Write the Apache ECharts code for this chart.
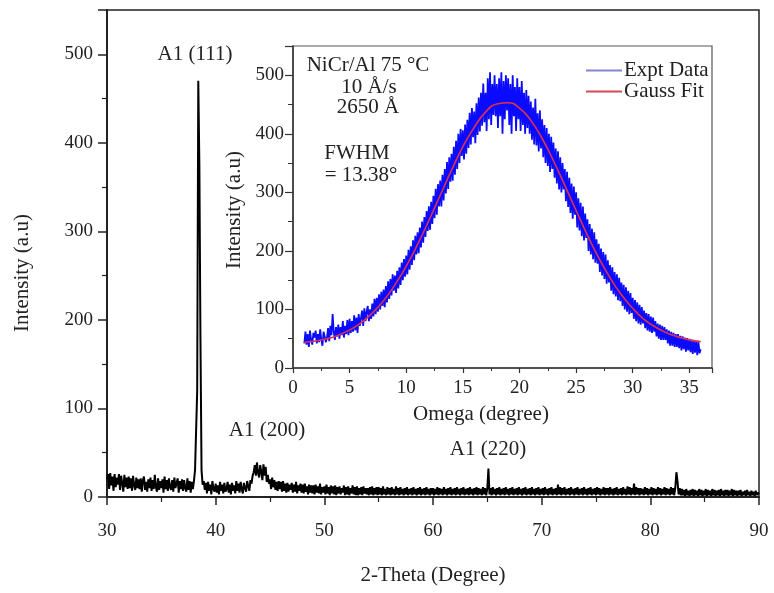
<!DOCTYPE html>
<html>
<head>
<meta charset="utf-8">
<script src="https://cdn.jsdelivr.net/npm/echarts@6/dist/echarts.min.js"></script>
<style>html,body{margin:0;padding:0;background:#fff}#c{width:774px;height:593px}</style>
</head>
<body>
<div id="c"></div>
<script>
// ---- Main XRD pattern: 2-Theta from 30 to 90, step 0.1 ----
const thetaStart = 30;
const thetaStep = 0.1;
const xrdIntensity = [
20,26,9,27,13,23,7,26,11,22,
14,26,8,24,16,6,25,11,22,9,
23,10,21,7,24,13,8,22,10,20,
9,21,6,19,23,8,17,6,20,10,
22,7,19,9,25,11,6,21,8,18,
10,20,5,23,9,19,7,21,11,8,
19,6,22,10,8,21,5,18,9,20,
7,19,10,6,21,8,18,5,17,9,
18,30,32,120,470,375,178,30,14,18,
8,16,4,17,7,14,3,18,9,6,
15,5,13,3,17,7,14,4,16,6,
9,17,5,14,3,16,7,13,4,18,
7,15,5,17,9,4,16,10,6,18,
12,7,19,15,24,28,36,24,39,27,
22,36,28,19,37,24,34,17,25,15,
20,9,22,11,19,8,17,7,18,9,
17,6,18,7,15,5,16,6,14,8,
16,5,14,6,17,4,13,7,15,5,
14,4,15,6,12,3,14,5,13,4,
13,3,14,5,12,4,15,3,11,5,
12,3,14,4,11,2,13,4,12,3,
13,2,11,4,12,3,10,5,13,2,
11,3,12,2,10,4,13,3,11,2,
12,2,10,3,11,2,12,4,10,3,
10,2,11,3,12,2,10,3,11,2,
11,3,10,2,12,3,9,2,11,3,
10,2,11,3,9,2,12,3,10,2,
11,3,9,2,10,3,11,2,9,3,
10,2,11,3,9,2,10,3,11,2,
9,3,10,2,11,3,9,2,10,3,
10,2,9,3,11,2,10,3,9,2,
11,3,9,2,10,3,11,2,9,3,
10,2,11,3,9,2,10,3,11,2,
9,3,10,2,11,3,9,2,10,3,
11,2,10,3,9,2,11,3,10,2,
10,32,3,10,2,11,3,9,2,10,
3,11,2,9,3,10,2,11,3,9,
2,10,3,11,2,9,3,10,2,11,
3,9,2,10,3,11,2,9,3,10,
2,11,3,9,2,10,3,11,2,9,
3,10,2,11,3,9,2,10,3,11,
2,9,3,10,2,14,3,11,2,10,
3,11,2,9,3,10,2,11,3,9,
2,10,3,11,2,9,3,10,2,11,
3,9,2,10,3,11,2,9,3,10,
2,11,3,10,2,9,3,11,2,10,
3,10,2,11,3,9,2,10,3,11,
2,9,3,10,2,11,3,9,2,12,
3,11,2,10,3,15,2,11,3,10,
2,10,3,9,2,11,3,10,2,9,
3,11,2,10,3,9,2,11,3,10,
2,9,3,11,2,10,3,9,2,11,
3,10,2,11,28,18,3,10,2,9,
2,8,1,9,2,7,1,8,2,9,
1,8,2,7,1,9,2,8,1,7,
2,9,1,8,2,7,1,9,2,8,
1,7,2,8,1,9,2,7,1,8,
2,8,1,7,2,9,1,8,2,7,
1,7,2,8,1,6,2,7,1,8,
2,6,1,7,2,6,1,7,2,5,
3
];

// ---- Inset: rocking curve, Omega from 1 to 36, step 0.1 ----
const omegaStart = 1;
const omegaStep = 0.1;
const exptIntensity = [
42,62,40,58,36,64,48,40,60,52,
64,42,58,44,66,48,38,62,54,44,
52,68,46,72,56,92,62,48,70,54,
74,50,70,56,80,52,72,58,82,56,
84,60,80,62,90,64,86,60,92,72,
74,98,72,102,80,96,106,80,100,84,
110,88,118,92,120,96,126,100,130,106,
134,104,140,112,148,118,152,124,160,132,
158,128,166,136,172,142,180,150,186,156,
192,160,202,168,208,176,218,184,226,194,
232,196,240,206,250,214,258,224,268,234,
276,236,284,246,294,256,306,262,314,276,
320,276,330,286,340,298,352,306,360,318,
366,320,378,330,388,340,400,350,408,362,
406,356,416,366,424,376,436,382,444,394,
438,384,452,398,462,404,470,414,486,420,
470,405,495,425,505,415,485,432,500,430,
485,410,495,430,505,400,490,425,500,440,
495,415,485,400,500,430,480,405,495,425,
480,405,490,415,470,400,475,410,465,400,
455,390,445,382,460,380,435,370,440,375,
425,360,415,350,410,345,400,335,395,340,
385,325,375,315,370,305,360,300,350,305,
340,285,335,275,325,265,315,255,310,262,
300,240,290,235,282,225,276,218,264,222,
254,200,246,194,238,186,232,180,220,178,
212,164,204,158,198,152,194,144,184,146,
176,132,172,126,164,122,160,116,154,114,
146,106,142,100,138,96,132,92,128,94,
120,84,116,80,112,76,108,74,104,76,
98,68,94,64,92,62,88,60,86,62,
80,54,76,50,74,48,72,48,70,48,
66,42,64,38,62,38,60,36,58,36,
58,34,55,30,54,32,52,28,51,30,
50,27,48,24,47,26,46,22,45,25,
32
];

// Gauss fit read at whole degrees
const fitOmega = [1,2,3,4,5,6,7,8,9,10,11,12,13,14,15,16,17,18,19,20,21,22,23,24,25,26,27,28,29,30,31,32,33,34,35,36];
const fitIntensity = [44,46,50,56,65,77,94,115,142,174,211,252,295,338,378,411,437,451,453,444,423,392,354,312,269,227,188,154,125,102,83,70,60,53,48,45];

const peakLabels = ['A1 (111)', 'A1 (200)', 'A1 (220)'];
const insetNotes = ['NiCr/Al 75 °C', '10 Å/s', '2650 Å', 'FWHM', '= 13.38°'];
const axisNames = ['2-Theta (Degree)', 'Intensity (a.u)', 'Omega (degree)', 'Intensity (a.u)'];
const seriesNames = ['Expt Data', 'Gauss Fit'];

const xrdData = xrdIntensity.map((v, i) => [+(thetaStart + i * thetaStep).toFixed(1), v]);
const exptData = exptIntensity.map((v, i) => [+(omegaStart + i * omegaStep).toFixed(1), v]);
const fitData = fitOmega.map((x, i) => [x, fitIntensity[i]]);

const FONT = '"Liberation Serif", "DejaVu Serif", serif';
const TXT = '#222';

const chart = echarts.init(document.getElementById('c'), null, {renderer: 'canvas'});
const hideOdd = step => v => (Math.abs(v / step - Math.round(v / step)) < 1e-6 ? String(v) : '');
const label = (text, x, y, rot) => ({
  type: 'text', x: x, y: y, rotation: rot || 0,
  style: {text: text, font: '21px ' + FONT, fill: TXT, align: 'center', verticalAlign: 'middle'}
});

chart.setOption({
  animation: false,
  backgroundColor: '#fff',
  grid: [
    {left: 107, right: 15, top: 10, bottom: 96, show: true, borderColor: '#222', borderWidth: 1.5, backgroundColor: 'transparent'},
    {left: 293, right: 62, top: 46, bottom: 225, show: true, borderColor: '#555', borderWidth: 1.2, backgroundColor: 'transparent'}
  ],
  xAxis: [
    {
      gridIndex: 0, type: 'value', min: 30, max: 90, interval: 10,
      axisLine: {show: true, onZero: false, lineStyle: {color: '#222', width: 2}},
      axisTick: {show: true, length: 8, lineStyle: {color: '#222', width: 1.5}},
      minorTick: {show: true, splitNumber: 2, length: 5, lineStyle: {color: '#222', width: 1.2}},
      axisLabel: {fontFamily: FONT, fontSize: 19, color: TXT, margin: 25, formatter: hideOdd(10)},
      splitLine: {show: false}
    },
    {
      gridIndex: 1, type: 'value', min: 0, max: 37, interval: 5,
      axisLine: {show: true, onZero: false, lineStyle: {color: '#333', width: 1.5}},
      axisTick: {show: true, length: 5, lineStyle: {color: '#333', width: 1.2}},
      minorTick: {show: true, splitNumber: 2, length: 3, lineStyle: {color: '#333', width: 1}},
      axisLabel: {fontFamily: FONT, fontSize: 19, color: TXT, margin: 11, formatter: hideOdd(5)},
      splitLine: {show: false}
    }
  ],
  yAxis: [
    {
      gridIndex: 0, type: 'value', min: 0, max: 550, interval: 100,
      axisLine: {show: true, lineStyle: {color: '#222', width: 2}},
      axisTick: {show: true, length: 9, lineStyle: {color: '#222', width: 1.5}},
      minorTick: {show: true, splitNumber: 2, length: 5, lineStyle: {color: '#222', width: 1.2}},
      axisLabel: {fontFamily: FONT, fontSize: 19, color: TXT, margin: 14, formatter: hideOdd(100)},
      splitLine: {show: false}
    },
    {
      gridIndex: 1, type: 'value', min: 0, max: 550, interval: 100,
      axisLine: {show: true, lineStyle: {color: '#333', width: 1.5}},
      axisTick: {show: true, length: 8, lineStyle: {color: '#333', width: 1.2}},
      minorTick: {show: true, splitNumber: 2, length: 5, lineStyle: {color: '#333', width: 1}},
      axisLabel: {fontFamily: FONT, fontSize: 19, color: TXT, margin: 9, formatter: hideOdd(100)},
      splitLine: {show: false}
    }
  ],
  legend: {
    orient: 'vertical', left: 581, top: 55, itemGap: 0,
    itemWidth: 36, itemHeight: 2, icon: 'rect',
    textStyle: {fontFamily: FONT, fontSize: 21, color: TXT, padding: [0, 0, 0, -3]},
    data: [
      {name: seriesNames[0], itemStyle: {color: '#8585cc'}},
      {name: seriesNames[1], itemStyle: {color: '#d6465a'}}
    ]
  },
  series: [
    {
      name: 'XRD', type: 'line', xAxisIndex: 0, yAxisIndex: 0,
      data: xrdData, showSymbol: false, symbol: 'none',
      lineStyle: {color: '#000', width: 2}, z: 3
    },
    {
      name: seriesNames[0], type: 'line', xAxisIndex: 1, yAxisIndex: 1,
      data: exptData, showSymbol: false, symbol: 'none',
      itemStyle: {color: '#8585cc'},
      lineStyle: {color: '#0a0aff', width: 1.8}, z: 3
    },
    {
      name: seriesNames[1], type: 'line', xAxisIndex: 1, yAxisIndex: 1,
      data: fitData, showSymbol: false, symbol: 'none', smooth: true,
      itemStyle: {color: '#d6465a'},
      lineStyle: {color: '#e0304e', width: 1.6}, z: 4
    }
  ],
  graphic: [
    label(axisNames[0], 433, 575),
    label(axisNames[1], 22, 273, Math.PI / 2),
    label(axisNames[2], 481, 414),
    label(axisNames[3], 234, 210, Math.PI / 2),
    label(peakLabels[0], 195, 54),
    label(peakLabels[1], 267, 430),
    label(peakLabels[2], 488, 449),
    label(insetNotes[0], 368, 65),
    label(insetNotes[1], 369, 87),
    label(insetNotes[2], 368, 107),
    label(insetNotes[3], 357, 153),
    label(insetNotes[4], 361, 175)
  ]
});
</script>
</body>
</html>
